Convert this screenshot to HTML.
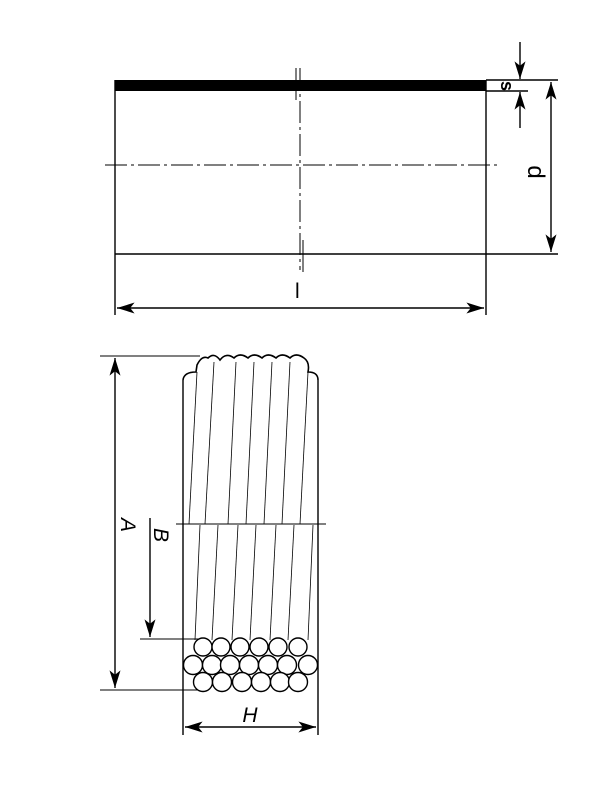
<!DOCTYPE html>
<html><head><style>body{margin:0;background:#fff}svg{display:block}</style></head><body>
<svg width="608" height="798" viewBox="0 0 608 798" xmlns="http://www.w3.org/2000/svg" font-family="Liberation Sans, sans-serif">
<defs>
<marker id="a" viewBox="0 0 16 10" refX="16" refY="5" markerWidth="18" markerHeight="11" orient="auto-start-reverse" markerUnits="userSpaceOnUse"><path d="M0,0 L16,5 L0,10 L4,5 Z" fill="#000"/></marker>
</defs>
<g stroke="#000" fill="none" stroke-width="1.4">
<rect x="115" y="80" width="371" height="11" fill="#000" stroke="none"/>
<line x1="115" y1="80" x2="115" y2="315"/>
<line x1="486" y1="80" x2="486" y2="315"/>
<line x1="115" y1="254" x2="558" y2="254"/>
<line x1="486" y1="80" x2="558" y2="80"/>
<line x1="486" y1="91" x2="528" y2="91"/>
<line x1="105" y1="165" x2="500" y2="165" stroke-dasharray="22,4,3,4" stroke-width="1"/>
<line x1="300" y1="68" x2="300" y2="270" stroke-dasharray="22,4,3,4" stroke-width="1"/>
<line x1="296" y1="68" x2="296" y2="100" stroke-width="1"/>
<line x1="303" y1="240" x2="303" y2="272" stroke-width="1"/>
<line x1="117" y1="308" x2="484" y2="308" marker-start="url(#a)" marker-end="url(#a)"/>
<line x1="551" y1="82" x2="551" y2="252" marker-start="url(#a)" marker-end="url(#a)"/>
<line x1="520" y1="42" x2="520" y2="79" marker-end="url(#a)"/>
<line x1="520" y1="128" x2="520" y2="92" marker-end="url(#a)"/>
<line x1="100" y1="356" x2="200" y2="356" stroke-width="1"/>
<line x1="100" y1="690" x2="205" y2="690" stroke-width="1"/>
<line x1="140" y1="639" x2="200" y2="639" stroke-width="1"/>
<line x1="115" y1="358" x2="115" y2="688" marker-start="url(#a)" marker-end="url(#a)"/>
<line x1="150" y1="518" x2="150" y2="637" marker-end="url(#a)"/>
<line x1="183" y1="380" x2="183" y2="735"/>
<line x1="318" y1="380" x2="318" y2="735"/>
<line x1="185" y1="727" x2="316" y2="727" marker-start="url(#a)" marker-end="url(#a)"/>
<path d="M183,380 Q184,372 196,372 L197,365 Q202,355 208,358 Q214,352 220,360 Q226,352 234,358 Q240,352 248,358 Q254,352 262,358 Q268,352 276,358 Q282,352 290,358 Q296,352 304,358 Q310,362 308,372 Q318,372 318,380" stroke-width="1.6"/>
<line x1="176" y1="524" x2="326" y2="524" stroke-width="1"/>
<g stroke-width="0.8">
<line x1="197" y1="372" x2="189" y2="524"/><line x1="214" y1="362" x2="205" y2="524"/>
<line x1="236" y1="362" x2="228" y2="524"/><line x1="254" y1="362" x2="246" y2="524"/>
<line x1="272" y1="362" x2="264" y2="524"/><line x1="290" y1="362" x2="282" y2="524"/>
<line x1="308" y1="372" x2="300" y2="524"/>
<line x1="200" y1="525" x2="195" y2="640"/><line x1="218" y1="525" x2="212" y2="640"/>
<line x1="238" y1="525" x2="232" y2="640"/><line x1="256" y1="525" x2="250" y2="640"/>
<line x1="276" y1="525" x2="270" y2="640"/><line x1="294" y1="525" x2="288" y2="640"/>
<line x1="313" y1="525" x2="308" y2="640"/>
</g>
<g stroke-width="1.4" fill="#fff">
<circle cx="203" cy="647" r="9"/><circle cx="221" cy="647" r="9"/><circle cx="240" cy="647" r="9"/><circle cx="259" cy="647" r="9"/><circle cx="278" cy="647" r="9"/><circle cx="298" cy="647" r="9"/>
<circle cx="193" cy="665" r="9.5"/><circle cx="212" cy="665" r="9.5"/><circle cx="230" cy="665" r="9.5"/><circle cx="249" cy="665" r="9.5"/><circle cx="268" cy="665" r="9.5"/><circle cx="287" cy="665" r="9.5"/><circle cx="308" cy="665" r="9.5"/>
<circle cx="203" cy="682" r="9.5"/><circle cx="222" cy="682" r="9.5"/><circle cx="242" cy="682" r="9.5"/><circle cx="261" cy="682" r="9.5"/><circle cx="280" cy="682" r="9.5"/><circle cx="298" cy="682" r="9.5"/>
</g>
</g>
<g font-size="21" fill="#000">
<text x="295" y="298">l</text>
<text transform="translate(528,172) rotate(90)" text-anchor="middle" font-size="24">d</text>
<text transform="translate(501,86) rotate(90)" text-anchor="middle" font-size="18" font-weight="bold">s</text>
<text transform="translate(121,525) rotate(90)" text-anchor="middle" font-style="italic">A</text>
<text transform="translate(154,535) rotate(90)" text-anchor="middle" font-style="italic">B</text>
<text x="250" y="722" text-anchor="middle" font-style="italic">H</text>
</g>
</svg>
</body></html>
